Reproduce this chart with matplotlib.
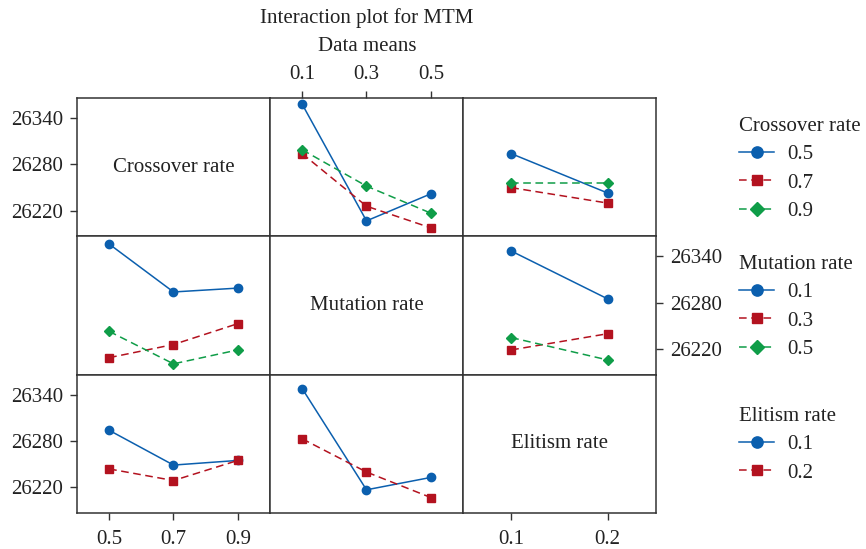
import matplotlib.pyplot as plt
from matplotlib.lines import Line2D

plt.rcParams['font.family'] = ['Liberation Serif', 'DejaVu Serif']
plt.rcParams['font.size'] = 15

# factor levels
crossover = [0.5, 0.7, 0.9]
mutation = [0.1, 0.3, 0.5]
elitism = [0.1, 0.2]

# means of MTM, one row per trace level
cross_vs_mut = [[26358, 26207, 26242],
                [26294, 26226, 26198],
                [26299, 26252, 26217]]
cross_vs_elit = [[26294, 26243],
                 [26250, 26230],
                 [26256, 26256]]
mut_vs_cross = [[26356, 26294, 26299],
                [26209, 26226, 26253],
                [26243, 26201, 26219]]
mut_vs_elit = [[26347, 26285],
               [26219, 26240],
               [26235, 26206]]
elit_vs_cross = [[26294, 26249, 26255],
                 [26244, 26229, 26255]]
elit_vs_mut = [[26348, 26217, 26233],
               [26283, 26240, 26207]]

names = ["Crossover rate", "Mutation rate", "Elitism rate"]
levels = [crossover, mutation, elitism]
xlims = [(0.4, 1.0), (0.0, 0.6), (0.05, 0.25)]
yticks = [26220, 26280, 26340]

blue, red, green = '#0b5fae', '#b3121f', '#0f9d48'
styles = [dict(color=blue, marker='o', linestyle='-', markersize=6),
          dict(color=red, marker='s', linestyle=(0, (5, 3)), markersize=5.5),
          dict(color=green, marker='D', linestyle=(0, (5, 3)), markersize=5.5)]

panels = {(0, 1): cross_vs_mut, (0, 2): cross_vs_elit,
          (1, 0): mut_vs_cross, (1, 2): mut_vs_elit,
          (2, 0): elit_vs_cross, (2, 1): elit_vs_mut}

fig, axes = plt.subplots(3, 3, figsize=(8.66, 5.49), dpi=100)
fig.subplots_adjust(left=0.0889, right=0.7575, top=0.8215, bottom=0.0656,
                    wspace=0, hspace=0)

for i in range(3):
    for j in range(3):
        ax = axes[i, j]
        ax.set_xlim(xlims[j])
        ax.set_ylim(26187, 26366)
        ax.set_xticks([])
        ax.set_yticks([])
        for s in ax.spines.values():
            s.set_color('#333333')
            s.set_linewidth(1.1)
        ax.tick_params(direction='out', length=5, width=1, color='#333333',
                       labelsize=15, labelcolor='#222222')
        if i == j:
            ax.text(0.5, 0.5, names[i], transform=ax.transAxes,
                    ha='center', va='center', fontsize=15, color='#222222')
            continue
        for k, vals in enumerate(panels[(i, j)]):
            ax.plot(levels[j], vals, linewidth=1.1, **styles[k])

# Minitab style alternating tick placement
axes[0, 0].set_yticks(yticks)
axes[2, 0].set_yticks(yticks)
axes[1, 2].set_yticks(yticks)
axes[1, 2].yaxis.tick_right()
axes[2, 0].set_xticks(crossover)
axes[2, 0].set_xticklabels(['0.5', '0.7', '0.9'])
axes[2, 2].set_xticks(elitism)
axes[2, 2].set_xticklabels(['0.1', '0.2'])
axes[0, 1].set_xticks(mutation)
axes[0, 1].set_xticklabels(['0.1', '0.3', '0.5'])
axes[0, 1].xaxis.tick_top()
for ax in axes.flat:
    ax.tick_params(axis='y', pad=5)
    ax.tick_params(axis='x', pad=7)
axes[0, 1].tick_params(axis='x', pad=5)

fig.text(0.4238, 1 - 18 / 549, "Interaction plot for MTM", ha='center',
         va='center', fontsize=15, color='#222222')
fig.text(0.4238, 1 - 47 / 549, "Data means", ha='center', va='center',
         fontsize=15, color='#222222')

legend_y = [117, 255, 407]
for f in range(3):
    handles = []
    labels = []
    for k, lv in enumerate(levels[f]):
        handles.append(Line2D([], [], linewidth=1.1, **styles[k]))
        labels.append(str(lv))
    leg = fig.legend(handles, labels, title=names[f], loc='upper left',
                     bbox_to_anchor=(739 / 866, 1 - legend_y[f] / 549),
                     frameon=False, borderaxespad=0, borderpad=0,
                     alignment='left', handlelength=1.7, handletextpad=0.6,
                     labelspacing=0.42, fontsize=15, title_fontsize=15,
                     markerscale=1.35)
    for t in leg.get_texts():
        t.set_color('#222222')
    leg.get_title().set_color('#222222')

plt.savefig("out.png", dpi=100)
